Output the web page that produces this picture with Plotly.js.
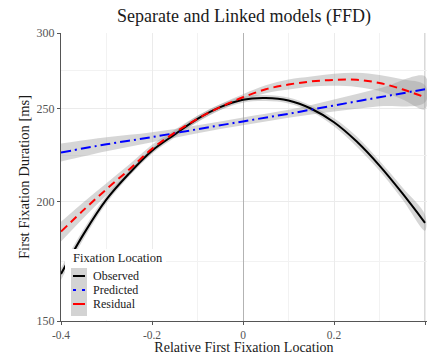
<!DOCTYPE html>
<html>
<head>
<meta charset="utf-8">
<script src="https://cdn.plot.ly/plotly-3.0.1.min.js"></script>
<style>html,body{margin:0;padding:0;background:#fff;}#chart{width:429px;height:355px;}</style>
</head>
<body>
<div id="chart"></div>
<script>
// ---- data ----
const xFine = [-0.4,-0.35,-0.3,-0.25,-0.2,-0.15,-0.1,-0.05,0,0.05,0.1,0.15,0.2,0.25,0.3,0.35,0.4];
const observed   = [168,185,201,214,226,235,244,251,255.5,256.5,255,250,242,231,218,204,190];
const observedLo = [165.6,182.8,199.1,212.5,224.4,233.3,242.2,249.2,253.7,254.7,253.2,248.2,239.7,228.2,215.4,201.1,186.4];
const observedHi = [170.4,187.2,202.9,215.5,227.6,236.7,245.8,252.8,257.4,258.4,256.8,251.8,244.3,233.8,220.6,207.0,193.7];
const residual   = [186,196,206,216,227,236,244,251,257,262,265,267,268,268,266,262,257];
const residualLo = [181.6,192.3,203.0,213.4,224.8,234.3,242.2,249.2,255.1,259.5,261.8,263.8,264.2,263.5,260.9,255.8,249.7];
const residualHi = [190.5,199.8,209.0,218.6,229.2,237.7,245.8,252.8,258.9,264.5,268.2,270.2,271.9,272.6,271.2,268.4,264.5];
const xCoarse = [-0.4,-0.3,-0.2,-0.1,0,0.1,0.2,0.3,0.4];
const predicted   = [225,229.5,233.5,238,242.5,247,252,257,262];
const predictedLo = [220.2,225.7,230.7,235.7,240.2,244.6,248.4,251.5,253.9];
const predictedHi = [229.9,233.4,236.3,240.3,244.8,249.4,255.7,262.6,270.3];
const seriesNames = ["Observed","Predicted","Residual"];
const legendTitle = "Fixation Location";
const xTickVals = [-0.4,-0.2,0,0.2,0.4];
const xTickText = ["-0.4","-0.2","0","0.2","0.4"];
const yTickVals = [150,200,250,300];
const yTickText = ["150","200","250","300"];
const yMinorVals = [173.2,223.6,273.9];

const FONT = "Liberation Serif, Times New Roman, serif";
const BAND = "rgba(153,153,153,0.4)";

function band(x, lo, hi) {
  return {
    type: "scatter", mode: "lines",
    x: x.concat(x.slice().reverse()),
    y: hi.concat(lo.slice().reverse()),
    fill: "toself", fillcolor: BAND,
    line: {width: 0, color: BAND, shape: "spline"},
    hoverinfo: "skip", showlegend: false
  };
}
function line(x, y, color, dash, name) {
  return {
    type: "scatter", mode: "lines", x: x, y: y, name: name,
    line: {color: color, width: 2, dash: dash, shape: "spline"},
    showlegend: false
  };
}

const traces = [
  band(xFine, observedLo, observedHi),
  band(xCoarse, predictedLo, predictedHi),
  band(xFine, residualLo, residualHi),
  line(xFine, observed, "#000000", "solid", seriesNames[0]),
  line(xCoarse, predicted, "#0000FF", "10px,4px,2px,4px", seriesNames[1]),
  line(xFine, residual, "#FF0000", "8px,5px", seriesNames[2])
];

// pixel -> paper helpers for the hand-built legend
const L = 61, R = 2, T = 33, B = 34, W = 429, H = 355;
const pw = W - L - R, ph = H - T - B;
const px = v => (v - L) / pw;
const py = v => (H - B - v) / ph;

const shapes = [
  {type:"rect", xref:"paper", yref:"paper", x0:px(65), x1:px(166), y0:py(320), y1:py(249),
   fillcolor:"#FFFFFF", line:{width:0}, layer:"above"},
  {type:"rect", xref:"paper", yref:"paper", x0:px(71), x1:px(87), y0:py(316), y1:py(268),
   fillcolor:"#D3D3D3", line:{width:0}, layer:"above"},
  {type:"line", xref:"paper", yref:"paper", x0:px(73), x1:px(85), y0:py(276), y1:py(276),
   line:{color:"#000000", width:2}, layer:"above"},
  {type:"line", xref:"paper", yref:"paper", x0:px(73), x1:px(76), y0:py(290), y1:py(290),
   line:{color:"#0000FF", width:2}, layer:"above"},
  {type:"line", xref:"paper", yref:"paper", x0:px(82), x1:px(85), y0:py(290), y1:py(290),
   line:{color:"#0000FF", width:2}, layer:"above"},
  {type:"line", xref:"paper", yref:"paper", x0:px(73), x1:px(85), y0:py(304), y1:py(304),
   line:{color:"#FF0000", width:2}, layer:"above"},
  {type:"line", xref:"x", yref:"paper", x0:0.4, x1:0.4, y0:0, y1:1,
   line:{color:"#B3B3B3", width:1}, layer:"below"}
];

const annotations = [
  {xref:"paper", yref:"paper", x:px(71), y:py(258), xanchor:"left", yanchor:"middle",
   text: legendTitle, showarrow:false, font:{family:FONT, size:12.5, color:"#1A1A1A"}},
  {xref:"paper", yref:"paper", x:px(91), y:py(276), xanchor:"left", yanchor:"middle",
   text: seriesNames[0], showarrow:false, font:{family:FONT, size:12, color:"#1A1A1A"}},
  {xref:"paper", yref:"paper", x:px(91), y:py(290), xanchor:"left", yanchor:"middle",
   text: seriesNames[1], showarrow:false, font:{family:FONT, size:12, color:"#1A1A1A"}},
  {xref:"paper", yref:"paper", x:px(91), y:py(304), xanchor:"left", yanchor:"middle",
   text: seriesNames[2], showarrow:false, font:{family:FONT, size:12, color:"#1A1A1A"}}
];

const layout = {
  width: W, height: H,
  margin: {l: L, r: R, t: T, b: B},
  paper_bgcolor: "#FFFFFF", plot_bgcolor: "#FFFFFF",
  font: {family: FONT, color: "#1A1A1A"},
  showlegend: false,
  title: {text: "Separate and Linked models (FFD)", x: 0.5, xref: "paper",
          y: 1 - 16/H, yref: "container", yanchor: "middle",
          font: {family: FONT, size: 18, color: "#1A1A1A"}},
  xaxis: {
    range: [-0.4, 0.4044], tickmode: "array", tickvals: xTickVals, ticktext: xTickText,
    showgrid: true, gridcolor: "#EBEBEB", gridwidth: 1,
    minor: {dtick: 0.1, tick0: 0, showgrid: true, gridcolor: "#F2F2F2", gridwidth: 1, ticklen: 0},
    zeroline: true, zerolinecolor: "#B3B3B3", zerolinewidth: 1,
    showline: true, linecolor: "#555555", linewidth: 1,
    ticks: "outside", ticklen: 3, tickcolor: "#555555", tickwidth: 1,
    tickfont: {family: FONT, size: 11.5, color: "#555555"},
    title: {text: "Relative First Fixation Location", standoff: 3,
            font: {family: FONT, size: 14, color: "#1A1A1A"}},
    automargin: false, fixedrange: true
  },
  yaxis: {
    type: "log", range: [Math.log10(150), Math.log10(300)],
    tickmode: "array", tickvals: yTickVals, ticktext: yTickText,
    showgrid: true, gridcolor: "#EBEBEB", gridwidth: 1,
    minor: {tickmode: "array", tickvals: yMinorVals, showgrid: true, gridcolor: "#F2F2F2", gridwidth: 1, ticklen: 0},
    zeroline: false,
    showline: true, linecolor: "#555555", linewidth: 1,
    ticks: "outside", ticklen: 3, tickcolor: "#555555", tickwidth: 1,
    tickfont: {family: FONT, size: 12, color: "#555555"},
    title: {text: "First Fixation Duration [ms]", standoff: 3,
            font: {family: FONT, size: 14.5, color: "#1A1A1A"}},
    automargin: false, fixedrange: true
  },
  shapes: shapes,
  annotations: annotations
};

Plotly.newPlot("chart", traces, layout, {staticPlot: true, displayModeBar: false});
</script>
</body>
</html>
